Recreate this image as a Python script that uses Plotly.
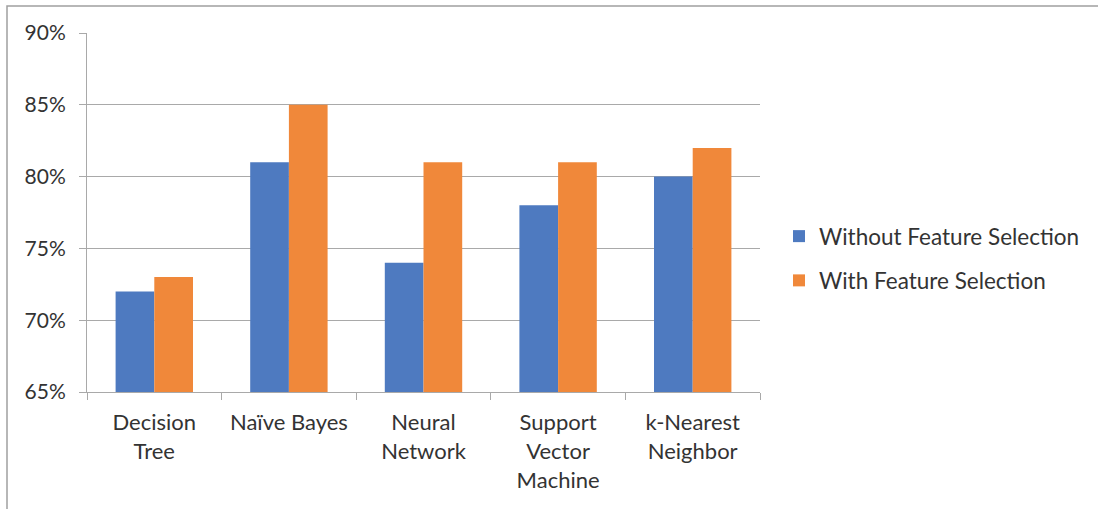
import plotly.graph_objects as go

# Classifier accuracy with and without feature selection
categories = ["Decision<br>Tree", "Naïve Bayes", "Neural<br>Network",
              "Support<br>Vector<br>Machine", "k-Nearest<br>Neighbor"]
without_fs = [0.72, 0.81, 0.74, 0.78, 0.80]
with_fs = [0.73, 0.85, 0.81, 0.81, 0.82]
series_names = ["Without Feature Selection", "With Feature Selection"]
colors = ["#4E7AC0", "#F0883A"]

W, H = 1098, 509
L, R, T, B = 87, 760, 33, 392
pw, ph = R - L, B - T

font = dict(family="Lato, 'Open Sans', sans-serif", size=21, color="#333333")
xfont = dict(family="Lato, 'Open Sans', sans-serif", size=22, color="#333333")
grid = "#a9a9a9"

fig = go.Figure()
for name, vals, col, grp in zip(series_names, [without_fs, with_fs], colors, ["a", "b"]):
    fig.add_trace(go.Bar(x=categories, y=vals, name=name, marker_color=col,
                         marker_line_width=0, legendgroup=grp))

def px_x(p):
    return (p - L) / pw

def px_y(p):
    return (B - p) / ph

fig.update_layout(
    width=W, height=H,
    margin=dict(l=L, r=W - R, t=T, b=H - B, autoexpand=False),
    paper_bgcolor="white", plot_bgcolor="white",
    font=font,
    barmode="group", bargap=0.425, bargroupgap=0,
    showlegend=True,
    legend=dict(x=px_x(779), y=px_y(215), xanchor="left", yanchor="top",
                font=dict(family="Lato, 'Open Sans', sans-serif", size=22.5, color="#333333"),
                traceorder="grouped", tracegroupgap=12,
                itemwidth=30, bgcolor="rgba(0,0,0,0)"),
    xaxis=dict(showline=True, linecolor=grid, linewidth=1,
               ticks="outside", tickson="boundaries", ticklen=7, tickcolor=grid,
               showgrid=False, tickfont=xfont, tickangle=0, ticklabelstandoff=11),
    yaxis=dict(range=[0.65, 0.90], dtick=0.05, tickformat=".0%",
               showline=True, linecolor=grid, linewidth=1,
               ticks="outside", ticklen=7, tickcolor=grid,
               showgrid=True, gridcolor=grid, gridwidth=1, zeroline=False,
               tickfont=font, ticklabelstandoff=9),
    shapes=[dict(type="rect", xref="paper", yref="paper",
                 x0=px_x(7), x1=px_x(W + 10), y0=px_y(H + 10), y1=px_y(6),
                 line=dict(color="#a0a0a0", width=1.5), layer="below")],
)

fig.write_html("out.html")
